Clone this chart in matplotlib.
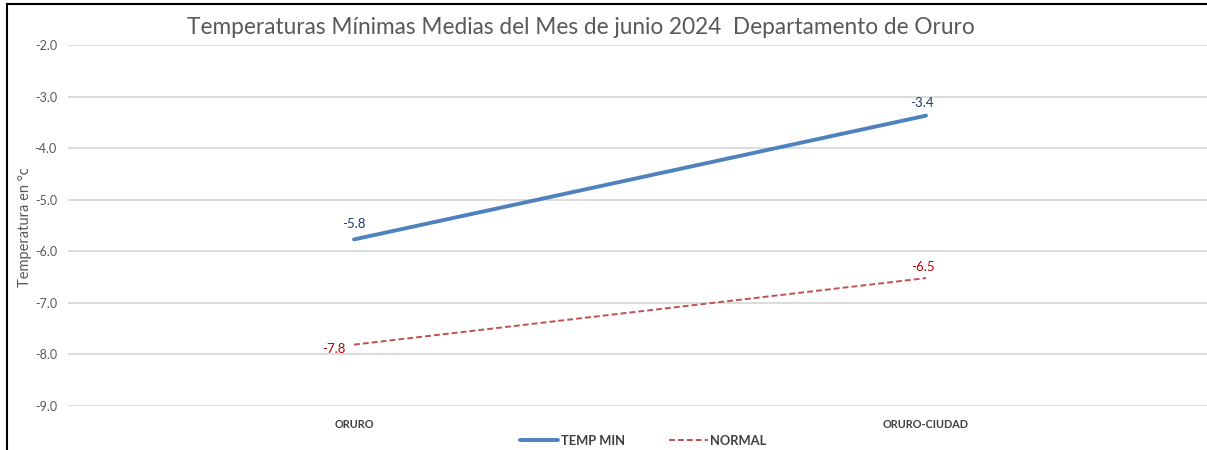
import matplotlib.pyplot as plt
from matplotlib.lines import Line2D

# data
estaciones = ["ORURO", "ORURO-CIUDAD"]
temp_min = [-5.77, -3.37]
normal = [-7.81, -6.52]
etiq_temp = ["-5.8", "-3.4"]
etiq_normal = ["-7.8", "-6.5"]
yticks = [-9.0, -8.0, -7.0, -6.0, -5.0, -4.0, -3.0, -2.0]

plt.rcParams['font.family'] = ['Lato', 'DejaVu Sans']

fig = plt.figure(figsize=(12.07, 4.5), dpi=100)
ax = fig.add_axes([68 / 1207, 1 - 406 / 450, 1144 / 1207, (406 - 45) / 450])

x = [0.5, 1.5]
ax.plot(x, temp_min, color="#4F81BD", lw=2.8, solid_capstyle="round", label="TEMP MIN")
ax.plot(x, normal, color="#C0504D", lw=1.4, ls=(0, (3, 1.6)), label="NORMAL")

# data labels
ax.annotate(etiq_temp[0], (x[0], temp_min[0]), xytext=(0, 7), textcoords="offset points",
            ha="center", va="bottom", color="#1F3864", fontsize=9.5)
ax.annotate(etiq_temp[1], (x[1], temp_min[1]), xytext=(-3, 5), textcoords="offset points",
            ha="center", va="bottom", color="#1F3864", fontsize=9.5)
ax.annotate(etiq_normal[0], (x[0], normal[0]), xytext=(-6, -3), textcoords="offset points",
            ha="right", va="center", color="#C00000", fontsize=9.5)
ax.annotate(etiq_normal[1], (x[1], normal[1]), xytext=(-2, 4), textcoords="offset points",
            ha="center", va="bottom", color="#C00000", fontsize=9.5)

ax.set_xlim(0, 2)
ax.set_ylim(-9, -2)
ax.set_yticks(yticks)
ax.set_yticklabels([f"{v:.1f}" for v in yticks], color="#595959", fontsize=9)
ax.set_xticks(x)
ax.set_xticklabels(estaciones, fontsize=7.8, fontweight="bold", color="#404040")
ax.tick_params(length=0, axis="y", pad=8)
ax.tick_params(length=0, axis="x", pad=9)
ax.grid(axis="y", color="#D9D9D9", lw=1.3)
ax.set_axisbelow(True)
for s in ax.spines.values():
    s.set_visible(False)

ax.set_ylabel("Temperatura en °c", color="#595959", fontsize=10.5)
ax.yaxis.set_label_coords((32 - 68) / 1144, (406 - 227) / (406 - 45))

fig.text(581 / 1207, 1 - 28 / 450, "Temperaturas Mínimas Medias del Mes de junio 2024  Departamento de Oruro",
         ha="center", va="center", fontsize=16.3, color="#595959")

leg = fig.legend(loc="center", bbox_to_anchor=(643 / 1207, 1 - 441 / 450), ncol=2, frameon=False,
                 fontsize=9.3, handlelength=3.0, columnspacing=3.4, handletextpad=0.2)
for t in leg.get_texts():
    t.set_fontweight("bold")
    t.set_color("#404040")

# screenshot border
fig.add_artist(Line2D([7 / 1207, 1], [1 - 4 / 450, 1 - 4 / 450], color="black", lw=1.5))
fig.add_artist(Line2D([7 / 1207, 7 / 1207], [0, 1 - 4 / 450], color="black", lw=1.5))

fig.savefig("out.png", dpi=100)
